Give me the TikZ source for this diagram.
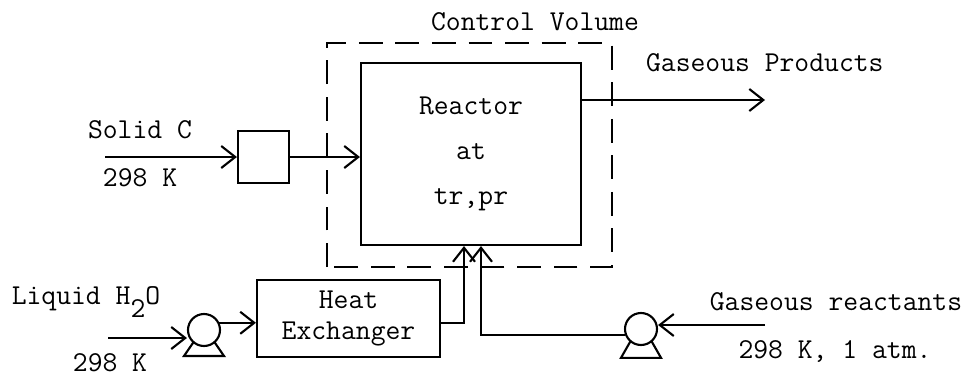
\documentclass[tikz,border=0pt]{standalone}
\usepackage{fontspec}
\usetikzlibrary{positioning}
\usetikzlibrary{arrows.meta}

\begin{document}
\begin{tikzpicture}[
    font=\ttfamily\fontsize{20.5}{22}\selectfont,
    line width=1.5pt,
    >={Straight Barb[length=3.5mm,width=5.5mm]},
    unit/.style={draw, inner sep=0pt, align=center},
    cvbound/.style={dash pattern=on 17pt off 9pt},
    flow/.style={->},
    pumpbody/.style={draw, circle, minimum size=0.8cm, inner sep=0pt},
    tag/.style={inner sep=0pt}
]
    \useasboundingbox (0,0) rectangle (24.375,9.425);

    % Control volume
    \draw[cvbound] (8.175,2.75) rectangle (15.3,8.35);
    \node[tag] (cvlabel) at (13.375,8.875) {Control Volume};

    % Units
    \node[unit, minimum width=5.5cm, minimum height=4.55cm] (reactor) at (11.775,5.575)
        {Reactor\\[10pt]at\\[10pt]tr,pr};
    \node[unit, minimum width=1.275cm, minimum height=1.3cm] (feeder) at (6.5875,5.5) {};
    \node[unit, minimum width=4.575cm, minimum height=1.925cm] (hx) at (8.7125,1.4625)
        {Heat\\Exchanger};

    % Pumps
    \node[pumpbody] (pumpA) at (5.1,1.175) {};
    \draw (pumpA.center) ++(-0.26,-0.3) -- ++(-0.24,-0.35) -- ++(1.0,0) -- ++(-0.24,0.35);
    \node[pumpbody] (pumpB) at (16.025,1.2) {};
    \draw (pumpB.center) ++(-0.26,-0.3) -- ++(-0.24,-0.42) -- ++(1.0,0) -- ++(-0.24,0.42);

    % Free ends
    \coordinate (solidin) at (2.625,5.5);
    \coordinate (prodout) at (19.125,6.925);
    \coordinate (waterin) at (2.7,0.975);
    \coordinate (gasin) at (19.125,1.3);

    % Streams
    \draw[flow] (solidin) -- (feeder.west);
    \draw[flow] (feeder.east) -- (reactor.west |- feeder.east);
    \draw[flow] (reactor.east |- prodout) -- (prodout);
    \draw[flow] (waterin) -- (waterin -| pumpA.west);
    \draw[flow] (pumpA.25) -- (pumpA.25 -| hx.west);
    \draw[flow] ([yshift=-0.12cm]hx.east) -| ([xshift=-0.175cm]reactor.south);
    \draw[flow] (gasin) -- (gasin -| pumpB.east);
    \draw[flow] (pumpB.200) -| ([xshift=0.25cm]reactor.south);

    % Labels
    \node[tag] (solidname) at (3.5,6.175) {Solid C};
    \node[tag] (solidtemp) at (3.5,4.975) {298 K};
    \node[tag, anchor=west] (prodname) at (16.125,7.85) {Gaseous Products};
    \node[tag] (watername) at (2.15,1.875) {Liquid H\raisebox{-0.45em}{2}O};
    \node[tag] (watertemp) at (2.75,0.35) {298 K};
    \node[tag] (gasname) at (20.9,1.875) {Gaseous reactants};
    \node[tag] (gastemp) at (20.875,0.625) {298 K, 1 atm.};
\end{tikzpicture}
\end{document}
